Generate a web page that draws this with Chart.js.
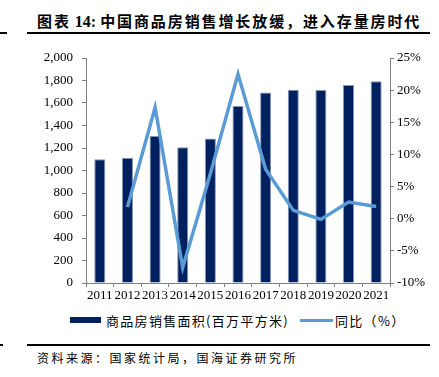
<!DOCTYPE html>
<html>
<head>
<meta charset="utf-8">
<script src="https://cdn.jsdelivr.net/npm/chart.js@4/dist/chart.umd.min.js"></script>
<style>
  html, body { margin: 0; padding: 0; background: #fff; }
  body { width: 439px; height: 377px; position: relative; overflow: hidden; }
  .abs { position: absolute; }
  .title { left: 37px; top: 10px; font: bold 15px "Noto Sans CJK SC", sans-serif; letter-spacing: 1.9px; color: #000; white-space: nowrap; }
  .title .num { font-family: "Liberation Serif", serif; font-size: 16px; letter-spacing: 0; }
  .rule { background: #000; height: 2px; }
  .legend { font: 13px "Noto Sans CJK SC", sans-serif; letter-spacing: 1.3px; color: #000; white-space: nowrap; top: 311px; }
  .source { left: 37px; top: 349px; font: 12px "Noto Sans CJK SC", sans-serif; letter-spacing: 2.5px; color: #000; white-space: nowrap; }
  #wrap { left: 0; top: 40px; width: 439px; height: 270px; }
</style>
</head>
<body>
<div class="abs title">图表<span class="num"> 14: </span>中国商品房销售增长放缓，进入存量房时代</div>
<div class="abs rule" style="left:0;top:32px;width:7px;"></div>
<div class="abs rule" style="left:27px;top:32px;width:403px;"></div>

<div class="abs" id="wrap"><canvas id="chart"></canvas></div>

<div class="abs" style="left:70px;top:317px;width:31px;height:6px;background:#002060;"></div>
<div class="abs legend" style="left:106px;">商品房销售面积(百万平方米)</div>
<div class="abs" style="left:300px;top:319px;width:33px;height:3px;background:#5B9BD5;"></div>
<div class="abs legend" style="left:335px;">同比（%）</div>

<div class="abs rule" style="left:0;top:344px;width:3px;"></div>
<div class="abs rule" style="left:27px;top:344px;width:403px;"></div>
<div class="abs source">资料来源：国家统计局，国海证券研究所</div>

<script>
// 数据
const years = ['2011', '2012', '2013', '2014', '2015', '2016', '2017', '2018', '2019', '2020', '2021'];
const salesArea = [1099, 1113, 1306, 1206, 1285, 1573, 1694, 1717, 1716, 1761, 1794];
const yoy = [null, 1.8, 17.3, -7.6, 7.0, 22.5, 7.7, 1.3, -0.1, 2.6, 1.9];
const leftTicks = [0, 200, 400, 600, 800, 1000, 1200, 1400, 1600, 1800, 2000];
const rightTicks = [-10, -5, 0, 5, 10, 15, 20, 25];

const numFont = { family: 'Liberation Serif', size: 13 };
const axisGrid = { drawOnChartArea: false, drawTicks: true, tickLength: 4, color: '#808080' };
const axisBorder = { display: true, color: '#808080', width: 1 };

new Chart(document.getElementById('chart'), {
  data: {
    labels: years,
    datasets: [
      {
        type: 'line',
        label: '同比（%）',
        data: yoy,
        yAxisID: 'y1',
        borderColor: '#5B9BD5',
        borderWidth: 3.5,
        pointRadius: 0,
        tension: 0,
        order: 0,
      },
      {
        type: 'bar',
        label: '商品房销售面积(百万平方米)',
        data: salesArea,
        yAxisID: 'y',
        backgroundColor: '#002060',
        borderColor: '#8497B0',
        borderWidth: 1,
        categoryPercentage: 1,
        barPercentage: 0.4,
        order: 1,
      },
    ],
  },
  options: {
    responsive: true,
    maintainAspectRatio: false,
    animation: false,
    layout: { padding: { top: 18, left: 0, right: 0, bottom: 0 } },
    plugins: { legend: { display: false }, tooltip: { enabled: false } },
    scales: {
      x: {
        grid: { ...axisGrid, offset: true },
        border: axisBorder,
        ticks: { color: '#000', font: numFont, padding: 1, maxRotation: 0, autoSkip: false },
        afterFit: (s) => { s.height = 27; },
      },
      y: {
        position: 'left',
        min: 0,
        max: 2000,
        grid: axisGrid,
        border: axisBorder,
        afterBuildTicks: (s) => { s.ticks = leftTicks.map((v) => ({ value: v })); },
        ticks: {
          color: '#000',
          font: numFont,
          padding: 9,
          callback: (v) => v.toLocaleString('en-US'),
        },
        afterFit: (s) => { s.width = 86; },
      },
      y1: {
        position: 'right',
        min: -10,
        max: 25,
        grid: axisGrid,
        border: axisBorder,
        afterBuildTicks: (s) => { s.ticks = rightTicks.map((v) => ({ value: v })); },
        ticks: {
          color: '#000',
          font: numFont,
          padding: 3,
          callback: (v) => v + '%',
        },
        afterFit: (s) => { s.width = 49; },
      },
    },
  },
});
</script>
</body>
</html>
